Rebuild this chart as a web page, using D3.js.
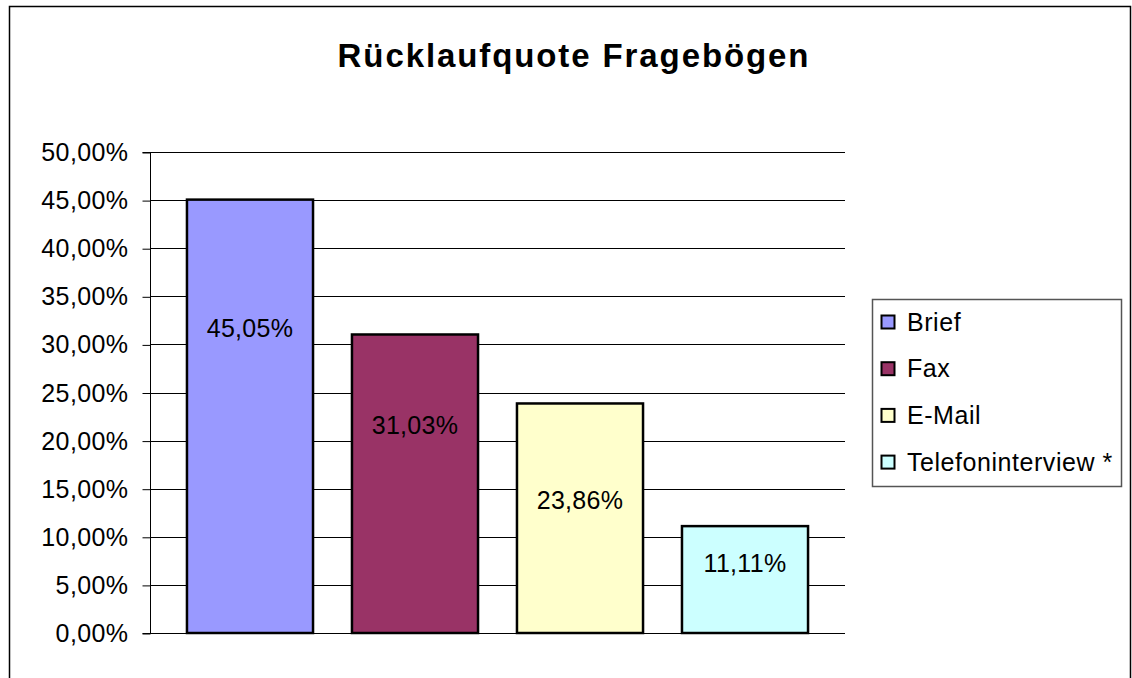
<!DOCTYPE html>
<html>
<head>
<meta charset="utf-8">
<script src="https://cdn.jsdelivr.net/npm/d3@7"></script>
<style>
  html, body { margin: 0; padding: 0; background: #fff; }
  svg { display: block; font-family: 'Liberation Sans', Arial, sans-serif; }
</style>
</head>
<body>
<svg id="chart" width="1132" height="678"></svg>
<script>
const TITLE = 'Rücklaufquote Fragebögen';
const series = ['Brief', 'Fax', 'E-Mail', 'Telefoninterview *'];
const values = [45.05, 31.03, 23.86, 11.11];
const colors = ['#9999ff', '#993366', '#ffffcc', '#ccffff'];
// where the value labels sit, in axis units
const labelAt = [31.7, 21.6, 13.8, 7.3];
const yTicks = [0, 5, 10, 15, 20, 25, 30, 35, 40, 45, 50];

const PLOT = { left: 150, right: 845, top: 152, bottom: 633 };

const fmt = v => d3.format('.2f')(v).replace('.', ',') + '%';

drawChart(d3.select('#chart'));

function drawChart(svg) {
  // outer chart frame (bottom runs off the page)
  svg.append('path')
    .attr('d', 'M9.5,690 V6.5 H1130.5 V690')
    .attr('fill', 'none')
    .attr('stroke', '#000')
    .attr('stroke-width', 1.5);

  svg.append('text')
    .attr('x', 574)
    .attr('y', 67)
    .attr('text-anchor', 'middle')
    .attr('font-size', 33)
    .attr('font-weight', 'bold')
    .attr('letter-spacing', 1.9)
    .text(TITLE);

  const y = d3.scaleLinear()
    .domain([0, 50])
    .range([PLOT.bottom, PLOT.top]);

  const x = d3.scaleBand()
    .domain(series)
    .range([PLOT.left, PLOT.right])
    .paddingInner(0.236)
    .paddingOuter(0.224);

  // gridlines
  svg.append('g')
    .attr('class', 'grid')
    .selectAll('line')
    .data(yTicks)
    .enter()
    .append('line')
    .attr('x1', PLOT.left)
    .attr('x2', PLOT.right)
    .attr('y1', d => Math.round(y(d)) + 0.5)
    .attr('y2', d => Math.round(y(d)) + 0.5)
    .attr('stroke', '#000')
    .attr('stroke-width', 1);

  const axis = d3.axisLeft(y)
    .tickValues(yTicks)
    .tickSize(8)
    .tickPadding(14)
    .tickFormat(fmt);

  const axisG = svg.append('g')
    .attr('transform', `translate(${PLOT.left + 0.5},0.5)`)
    .call(axis);

  axisG.selectAll('text')
    .attr('font-size', 25)
    .attr('letter-spacing', 0.4)
    .attr('font-family', "'Liberation Sans', Arial, sans-serif")
    .attr('fill', '#000');
  axisG.selectAll('line, path').attr('stroke', '#000');
  axisG.select('.domain').attr('d', `M-8,${PLOT.top}H0V${PLOT.bottom}H-8`);

  // bars
  svg.append('g')
    .selectAll('rect')
    .data(values)
    .enter()
    .append('rect')
    .attr('x', (d, i) => x(series[i]))
    .attr('y', d => y(d))
    .attr('width', x.bandwidth())
    .attr('height', d => y(0) - y(d))
    .attr('fill', (d, i) => colors[i])
    .attr('stroke', '#000')
    .attr('stroke-width', 2.5);

  svg.append('g')
    .selectAll('text')
    .data(values)
    .enter()
    .append('text')
    .attr('x', (d, i) => x(series[i]) + x.bandwidth() / 2)
    .attr('y', (d, i) => y(labelAt[i]))
    .attr('dy', '0.35em')
    .attr('text-anchor', 'middle')
    .attr('font-size', 25)
    .attr('letter-spacing', 0.3)
    .text(fmt);

  drawLegend(svg);
}

function drawLegend(svg) {
  const legend = svg.append('g')
    .attr('class', 'legend');

  legend.append('rect')
    .attr('x', 872.5)
    .attr('y', 299.5)
    .attr('width', 249)
    .attr('height', 187)
    .attr('fill', '#fff')
    .attr('stroke', '#555')
    .attr('stroke-width', 1.5);

  const item = legend.selectAll('.item')
    .data(series)
    .enter()
    .append('g')
    .attr('class', 'item')
    .attr('transform', (d, i) => `translate(0, ${322 + i * 46.7})`);

  item.append('rect')
    .attr('x', 881.5)
    .attr('y', -6.5)
    .attr('width', 13)
    .attr('height', 13)
    .attr('fill', (d, i) => colors[i])
    .attr('stroke', '#000')
    .attr('stroke-width', 2);

  item.append('text')
    .attr('x', 907)
    .attr('dy', '0.35em')
    .attr('font-size', 25)
    .attr('letter-spacing', 0.55)
    .text(d => d);
}
</script>
</body>
</html>
